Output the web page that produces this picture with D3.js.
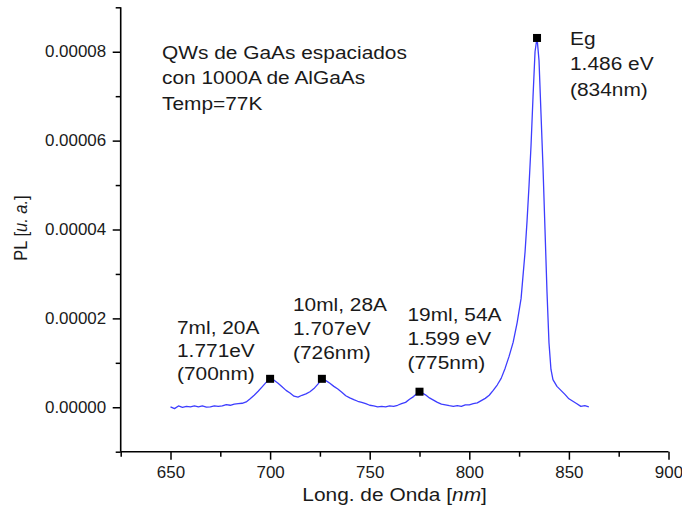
<!DOCTYPE html>
<html>
<head>
<meta charset="utf-8">
<script src="https://cdn.jsdelivr.net/npm/d3@7"></script>
<style>
body { margin: 0; background: #fff; }
svg { display: block; }
text { font-family: "Liberation Sans", Arial, sans-serif; fill: #1a1a1a; }
</style>
</head>
<body>
<svg id="pl-chart" width="682" height="510"></svg>
<script>
// spectrum (nm, PL in a.u.)
var wavelength = [650, 652, 654, 656, 658, 660, 662, 664, 666, 668, 670, 672, 674, 676, 678, 680,
    682, 684, 686, 688, 690, 692, 694, 696, 698, 700, 702, 704, 706, 708, 710, 712, 714, 716, 718,
    720, 722, 724, 726, 728, 730, 732, 734, 736, 738, 740, 742, 744, 746, 748, 750, 752, 754, 756,
    758, 760, 762, 764, 766, 768, 770, 772, 774, 775, 776, 778, 780, 782, 784, 786, 788, 790, 792,
    794, 796, 798, 800, 802, 804, 806, 808, 810, 812, 814, 816, 818, 820, 822, 824, 826, 828, 829,
    830, 831, 832, 833, 834, 835, 836, 837, 838, 839, 840, 841, 842, 844, 846, 848, 850, 852, 854,
    856, 858, 860];
var plValues = [0.1e-6, -0.3e-6, 0.3e-6, 0.0, 0.2e-6, 0.1e-6, 0.3e-6, 0.1e-6, 0.3e-6, 0.05e-6,
    0.1e-6, 0.3e-6, 0.2e-6, 0.3e-6, 0.6e-6, 0.45e-6, 0.7e-6, 0.8e-6, 0.9e-6, 1.2e-6, 1.9e-6, 2.7e-6,
    3.6e-6, 4.6e-6, 5.6e-6, 6.4e-6, 6.1e-6, 5.4e-6, 4.6e-6, 3.8e-6, 3.2e-6, 2.5e-6, 2.3e-6, 2.7e-6,
    3.0e-6, 3.5e-6, 4.2e-6, 5.2e-6, 6.4e-6, 6.0e-6, 5.4e-6, 4.7e-6, 4.1e-6, 3.4e-6, 2.6e-6, 2.1e-6,
    1.7e-6, 1.35e-6, 1.1e-6, 0.8e-6, 0.45e-6, 0.3e-6, 0.1e-6, 0.2e-6, 0.1e-6, 0.3e-6, 0.2e-6,
    0.45e-6, 0.8e-6, 1.1e-6, 1.8e-6, 2.4e-6, 3.2e-6, 3.5e-6, 3.3e-6, 2.8e-6, 2.1e-6, 1.6e-6, 1.1e-6,
    0.7e-6, 0.55e-6, 0.35e-6, 0.2e-6, 0.35e-6, 0.2e-6, 0.55e-6, 0.55e-6, 0.8e-6, 1.0e-6, 1.5e-6,
    2.0e-6, 2.7e-6, 3.8e-6, 5.0e-6, 6.5e-6, 8.8e-6, 11.5e-6, 14.6e-6, 19.0e-6, 24.5e-6, 35.0e-6,
    42.0e-6, 50.0e-6, 59.0e-6, 70.0e-6, 80.0e-6, 83.2e-6, 78.0e-6, 66.0e-6, 54.0e-6, 40.0e-6,
    26.0e-6, 14.5e-6, 8.5e-6, 6.2e-6, 4.7e-6, 3.8e-6, 2.9e-6, 1.9e-6, 1.35e-6, 0.8e-6, 0.2e-6,
    0.35e-6, 0.1e-6];

// marked peaks
var peakNm = [700, 726, 775, 834];
var peakPL = [6.4e-6, 6.4e-6, 3.5e-6, 83.1e-6];
var peakLabels = [
    ["7ml, 20A", "1.771eV", "(700nm)"],
    ["10ml, 28A", "1.707eV", "(726nm)"],
    ["19ml, 54A", "1.599 eV", "(775nm)"],
    ["Eg", "1.486 eV", "(834nm)"]
];
var infoLines = ["QWs de GaAs espaciados", "con 1000A de AlGaAs", "Temp=77K"];

// axes
var xMajor = [650, 700, 750, 800, 850, 900];
var xMinor = [625, 675, 725, 775, 825, 875];
var yMajor = [0, 0.00002, 0.00004, 0.00006, 0.00008];
var yMinor = [-0.00001, 0.00001, 0.00003, 0.00005, 0.00007, 0.00009];

var margin = { left: 120.7, right: 13.5, top: 7.3, bottom: 58.3 };
var chartWidth = 682 - margin.left - margin.right;
var chartHeight = 510 - margin.top - margin.bottom;

var svg = d3.select("#pl-chart");

var x = d3.scaleLinear()
    .domain([625, 900])
    .range([margin.left, margin.left + chartWidth]);

var y = d3.scaleLinear()
    .domain([-0.00001, 0.00009])
    .range([margin.top + chartHeight, margin.top]);

var SX = 1.13;     // the picture's text is a bit wider than plain Arial
var TICK_SX = 1.06;

// x axis
var xg = svg.append("g").attr("transform", "translate(0," + y.range()[0] + ")");
xg.append("g")
    .call(d3.axisBottom(x).tickValues(xMinor).tickSize(5).tickFormat(""));
xg.append("g")
    .call(d3.axisBottom(x).tickValues(xMajor).tickSize(8).tickPadding(7).tickFormat(d3.format("d")));
xg.selectAll(".domain").remove();
xg.append("line")
    .attr("x1", x.range()[0]).attr("x2", x.range()[1])
    .attr("stroke", "#000").attr("stroke-width", 1.6);

// y axis
var yg = svg.append("g").attr("transform", "translate(" + x.range()[0] + ",0)");
yg.append("g")
    .call(d3.axisLeft(y).tickValues(yMinor).tickSize(5).tickFormat(""));
yg.append("g")
    .attr("class", "ymajor")
    .call(d3.axisLeft(y).tickValues(yMajor).tickSize(8).tickFormat(d3.format(".5f")));
yg.selectAll(".domain").remove();
yg.append("line")
    .attr("y1", y.range()[0]).attr("y2", y.range()[1])
    .attr("stroke", "#000").attr("stroke-width", 1.6);

svg.selectAll(".tick line").attr("stroke", "#000").attr("stroke-width", 1.5);
svg.selectAll(".tick text")
    .attr("font-family", null)
    .style("font-size", "16px")
    .attr("fill", "#1a1a1a");
xg.selectAll(".tick text").attr("transform", "scale(" + TICK_SX + ",1)");
yg.selectAll(".ymajor .tick text")
    .attr("x", 0)
    .attr("transform", "translate(-14.5,0) scale(" + TICK_SX + ",1)");

// axis titles
var xTitle = svg.append("g")
    .attr("transform", "translate(" + ((x.range()[0] + x.range()[1]) / 2) + ",501) scale(" + SX + ",1)")
    .append("text")
    .attr("text-anchor", "middle")
    .style("font-size", "18.5px");
xTitle.append("tspan").text("Long. de Onda [");
xTitle.append("tspan").attr("font-style", "italic").text("nm");
xTitle.append("tspan").text("]");

var yTitle = svg.append("g")
    .attr("transform", "translate(27,228) rotate(-90) scale(1,1.1)")
    .append("text")
    .attr("text-anchor", "middle")
    .style("font-size", "16.5px");
yTitle.append("tspan").text("PL [");
yTitle.append("tspan").attr("font-style", "italic").text("u. a.");
yTitle.append("tspan").text("]");

// spectrum
var line = d3.line()
    .x(function(d, i) { return x(wavelength[i]); })
    .y(function(d) { return y(d); });

svg.append("path")
    .datum(plValues)
    .attr("fill", "none")
    .attr("stroke", "#3d3dff")
    .attr("stroke-width", 1.3)
    .attr("stroke-linejoin", "round")
    .attr("d", line);

// peak markers
svg.append("g")
    .selectAll("rect")
    .data(peakNm)
    .enter().append("rect")
    .attr("x", function(d) { return x(d) - 4; })
    .attr("y", function(d, i) { return y(peakPL[i]) - 4; })
    .attr("width", 8)
    .attr("height", 8)
    .attr("fill", "#000");

// multi-line labels
function addLabel(lines, px, py, lineGap) {
    var t = svg.append("g")
        .attr("transform", "translate(" + px + "," + py + ") scale(" + SX + ",1)")
        .append("text")
        .style("font-size", "18.5px");
    lines.forEach(function(s, i) {
        t.append("tspan").attr("x", 0).attr("y", i * lineGap).text(s);
    });
}

addLabel(infoLines, 162, 59, 25.5);
var labelPos = [[177, 333.5, 23.5], [293, 311, 24], [407.5, 321, 24], [570, 45, 25.5]];
peakLabels.forEach(function(lines, i) {
    addLabel(lines, labelPos[i][0], labelPos[i][1], labelPos[i][2]);
});
</script>
</body>
</html>
